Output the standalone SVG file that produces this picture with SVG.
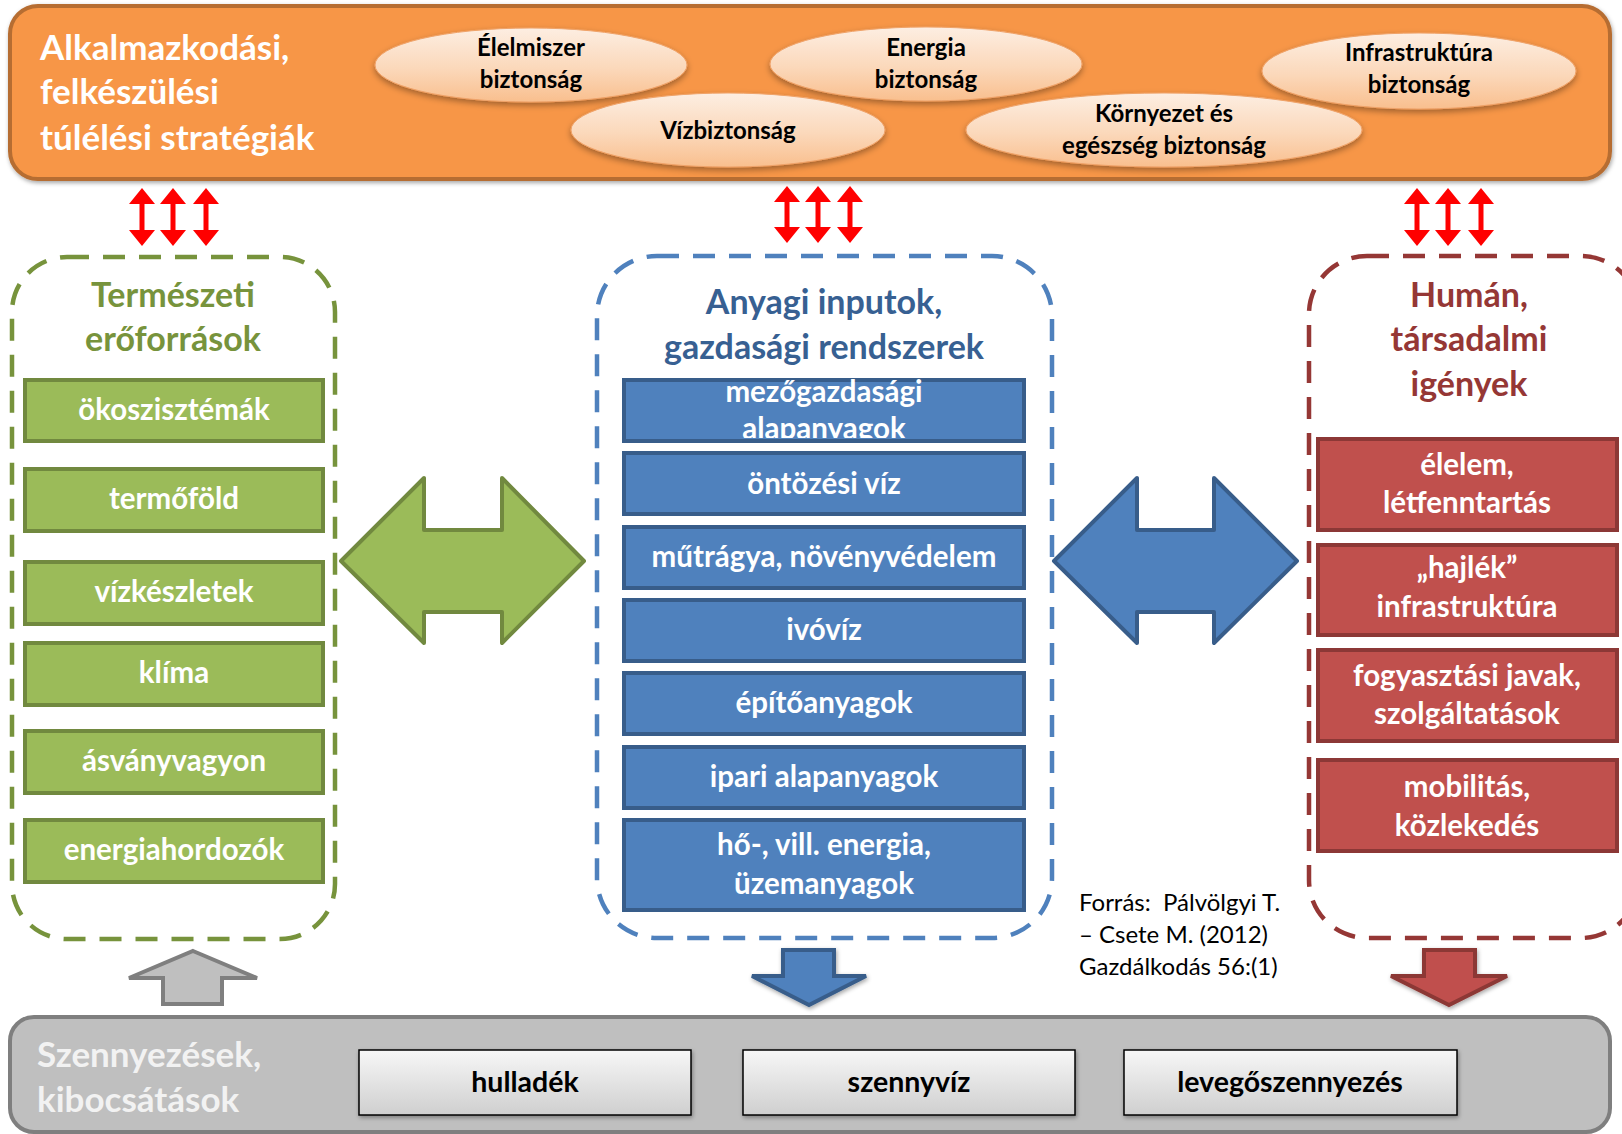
<svg xmlns="http://www.w3.org/2000/svg" width="1622" height="1134" viewBox="0 0 1622 1134">
<defs>
  <linearGradient id="gEll" x1="0" y1="0" x2="0" y2="1">
    <stop offset="0" stop-color="#FDEEE2"/>
    <stop offset="0.55" stop-color="#FBD8BA"/>
    <stop offset="1" stop-color="#F9BF8E"/>
  </linearGradient>
  <linearGradient id="gBox" x1="0" y1="0" x2="0" y2="1">
    <stop offset="0" stop-color="#F7F7F7"/>
    <stop offset="1" stop-color="#CFCFCF"/>
  </linearGradient>
  <filter id="shadow" x="-10%" y="-20%" width="120%" height="150%">
    <feDropShadow dx="0" dy="3" stdDeviation="3" flood-color="#000" flood-opacity="0.35"/>
  </filter>
  <filter id="shadowSm" x="-10%" y="-20%" width="120%" height="150%">
    <feDropShadow dx="1" dy="2" stdDeviation="2" flood-color="#000" flood-opacity="0.35"/>
  </filter>
  <clipPath id="clipMezo"><rect x="620" y="360" width="410" height="78"/></clipPath>
  <style>
    text { font-family: Lato, "Liberation Sans", sans-serif; font-weight: bold; text-anchor: middle; }
    .title { font-size: 35px; fill: #FFFFFF; text-anchor: start; }
    .ell { fill: url(#gEll); stroke: #EFA36A; stroke-width: 1; filter: url(#shadow); }
    .ellt { font-size: 24px; fill: #000; }
    .dashG { fill: none; stroke: #77933C; stroke-width: 4.5; stroke-dasharray: 22 14; }
    .dashB { fill: none; stroke: #4F81BD; stroke-width: 4.5; stroke-dasharray: 22 14; }
    .dashR { fill: none; stroke: #953735; stroke-width: 4.5; stroke-dasharray: 22 14; }
    .ctG { font-size: 34px; fill: #77933C; }
    .ctB { font-size: 34px; fill: #376092; }
    .ctR { font-size: 34px; fill: #953735; }
    .bxG { fill: #9BBB59; stroke: #71893F; stroke-width: 4; }
    .bxB { fill: #4F81BD; stroke: #385D8A; stroke-width: 4; }
    .bxR { fill: #C0504D; stroke: #8C3836; stroke-width: 4; }
    .bt { font-size: 29.5px; fill: #FFFFFF; }
    .gb { fill: url(#gBox); stroke: #000; stroke-width: 1.5; filter: url(#shadowSm); }
    .gbt { font-size: 28.5px; fill: #000; }
    .src { font-size: 24px; font-weight: normal; fill: #000; text-anchor: start; }
    .red { fill: #FF0000; }
  </style>
</defs>

<rect x="0" y="0" width="1622" height="1134" fill="#FFFFFF"/>

<!-- Top orange band -->
<g id="strategies">
  <rect x="10" y="6" width="1600" height="173" rx="28" fill="#F79646" stroke="#B66D31" stroke-width="4" filter="url(#shadowSm)"/>
  <text class="title" x="40" y="60">Alkalmazkodási,</text>
  <text class="title" x="40" y="104">felkészülési</text>
  <text class="title" x="40" y="150">túlélési stratégiák</text>
</g>
<g id="elelmiszer">
  <ellipse class="ell" cx="531" cy="65" rx="156" ry="37"/>
  <text class="ellt" x="531" y="56">Élelmiszer</text>
  <text class="ellt" x="531" y="88">biztonság</text>
</g>
<g id="energia">
  <ellipse class="ell" cx="926" cy="64" rx="156" ry="37"/>
  <text class="ellt" x="926" y="56">Energia</text>
  <text class="ellt" x="926" y="88">biztonság</text>
</g>
<g id="infrastruktura">
  <ellipse class="ell" cx="1419" cy="71" rx="157" ry="38"/>
  <text class="ellt" x="1419" y="61">Infrastruktúra</text>
  <text class="ellt" x="1419" y="93">biztonság</text>
</g>
<g id="vizbiztonsag">
  <ellipse class="ell" cx="728" cy="130" rx="157" ry="37"/>
  <text class="ellt" x="728" y="139">Vízbiztonság</text>
</g>
<g id="kornyezet">
  <ellipse class="ell" cx="1164" cy="130" rx="198" ry="37"/>
  <text class="ellt" x="1164" y="122">Környezet és</text>
  <text class="ellt" x="1164" y="154">egészség biztonság</text>
</g>

<!-- Left container: natural resources -->
<g id="termeszeti">
  <rect class="dashG" x="12" y="257" width="323" height="682" rx="55"/>
  <text class="ctG" x="173" y="307">Természeti</text>
  <text class="ctG" x="173" y="351">erőforrások</text>
</g>
<g id="okoszisztemak"><rect class="bxG" x="25" y="380" width="298" height="61"/><text class="bt" x="174" y="420">ökoszisztémák</text></g>
<g id="termofold"><rect class="bxG" x="25" y="469" width="298" height="62"/><text class="bt" x="174" y="509">termőföld</text></g>
<g id="vizkeszletek"><rect class="bxG" x="25" y="562" width="298" height="62"/><text class="bt" x="174" y="602">vízkészletek</text></g>
<g id="klima"><rect class="bxG" x="25" y="643" width="298" height="62"/><text class="bt" x="174" y="683">klíma</text></g>
<g id="asvanyvagyon"><rect class="bxG" x="25" y="731" width="298" height="62"/><text class="bt" x="174" y="771">ásványvagyon</text></g>
<g id="energiahordozok"><rect class="bxG" x="25" y="820" width="298" height="62"/><text class="bt" x="174" y="860">energiahordozók</text></g>

<!-- Middle container -->
<g id="anyagi">
  <rect class="dashB" x="597" y="256" width="455" height="682" rx="60"/>
  <text class="ctB" x="824" y="314">Anyagi inputok,</text>
  <text class="ctB" x="824" y="359">gazdasági rendszerek</text>
</g>
<g id="mezogazdasagi">
  <rect class="bxB" x="624" y="380" width="400" height="61"/>
  <g clip-path="url(#clipMezo)">
    <text class="bt" x="824" y="402">mezőgazdasági</text>
    <text class="bt" x="824" y="439">alapanyagok</text>
  </g>
</g>
<g id="ontozesi"><rect class="bxB" x="624" y="453" width="400" height="61"/><text class="bt" x="824" y="494">öntözési víz</text></g>
<g id="mutragya"><rect class="bxB" x="624" y="527" width="400" height="61"/><text class="bt" x="824" y="567">műtrágya, növényvédelem</text></g>
<g id="ivoviz"><rect class="bxB" x="624" y="600" width="400" height="61"/><text class="bt" x="824" y="640">ivóvíz</text></g>
<g id="epitoanyagok"><rect class="bxB" x="624" y="673" width="400" height="61"/><text class="bt" x="824" y="713">építőanyagok</text></g>
<g id="ipari"><rect class="bxB" x="624" y="747" width="400" height="61"/><text class="bt" x="824" y="787">ipari alapanyagok</text></g>
<g id="energia-uzem"><rect class="bxB" x="624" y="820" width="400" height="90"/><text class="bt" x="824" y="855">hő-, vill. energia,</text><text class="bt" x="824" y="894">üzemanyagok</text></g>

<!-- Right container -->
<g id="human">
  <rect class="dashR" x="1309" y="256" width="330" height="682" rx="58"/>
  <text class="ctR" x="1469" y="307">Humán,</text>
  <text class="ctR" x="1469" y="351">társadalmi</text>
  <text class="ctR" x="1469" y="396">igények</text>
</g>
<g id="elelem"><rect class="bxR" x="1318" y="439" width="299" height="91"/><text class="bt" x="1467" y="475">élelem,</text><text class="bt" x="1467" y="513">létfenntartás</text></g>
<g id="hajlek"><rect class="bxR" x="1318" y="545" width="299" height="90"/><text class="bt" x="1467" y="578">„hajlék”</text><text class="bt" x="1467" y="617">infrastruktúra</text></g>
<g id="fogyasztasi"><rect class="bxR" x="1318" y="650" width="299" height="91"/><text class="bt" x="1467" y="686">fogyasztási javak,</text><text class="bt" x="1467" y="724">szolgáltatások</text></g>
<g id="mobilitas"><rect class="bxR" x="1318" y="760" width="299" height="91"/><text class="bt" x="1467" y="797">mobilitás,</text><text class="bt" x="1467" y="836">közlekedés</text></g>

<!-- Source -->
<g id="forras">
  <text class="src" x="1079" y="911">Forrás:&#160; Pálvölgyi T.</text>
  <text class="src" x="1079" y="943">– Csete M. (2012)</text>
  <text class="src" x="1079" y="975">Gazdálkodás 56:(1)</text>
</g>

<!-- Bottom gray band -->
<g id="szennyezesek">
  <rect x="10" y="1017" width="1600" height="115" rx="24" fill="#BFBFBF" stroke="#7F7F7F" stroke-width="4"/>
  <text class="title" x="37" y="1067" style="fill:#F2F2F2">Szennyezések,</text>
  <text class="title" x="37" y="1112" style="fill:#F2F2F2">kibocsátások</text>
</g>
<g id="hulladek"><rect class="gb" x="359" y="1050" width="332" height="65"/><text class="gbt" x="525" y="1092">hulladék</text></g>
<g id="szennyviz"><rect class="gb" x="743" y="1050" width="332" height="65"/><text class="gbt" x="909" y="1092">szennyvíz</text></g>
<g id="levego"><rect class="gb" x="1124" y="1050" width="333" height="65"/><text class="gbt" x="1290" y="1092">levegőszennyezés</text></g>

<!-- Connectors -->
<g id="connectors">
  <!-- red double arrows: left -->
  <polygon class="red" points="142,188 155,204 144.5,204 144.5,230 155,230 142,246 129,230 139.5,230 139.5,204 129,204"/>
  <polygon class="red" points="173,188 186,204 175.5,204 175.5,230 186,230 173,246 160,230 170.5,230 170.5,204 160,204"/>
  <polygon class="red" points="206,188 219,204 208.5,204 208.5,230 219,230 206,246 193,230 203.5,230 203.5,204 193,204"/>
  <!-- middle -->
  <polygon class="red" points="787,186 800,202 789.5,202 789.5,227 800,227 787,243 774,227 784.5,227 784.5,202 774,202"/>
  <polygon class="red" points="818,186 831,202 820.5,202 820.5,227 831,227 818,243 805,227 815.5,227 815.5,202 805,202"/>
  <polygon class="red" points="850,186 863,202 852.5,202 852.5,227 863,227 850,243 837,227 847.5,227 847.5,202 837,202"/>
  <!-- right -->
  <polygon class="red" points="1417,188 1430,204 1419.5,204 1419.5,230 1430,230 1417,246 1404,230 1414.5,230 1414.5,204 1404,204"/>
  <polygon class="red" points="1448,188 1461,204 1450.5,204 1450.5,230 1461,230 1448,246 1435,230 1445.5,230 1445.5,204 1435,204"/>
  <polygon class="red" points="1481,188 1494,204 1483.5,204 1483.5,230 1494,230 1481,246 1468,230 1478.5,230 1478.5,204 1468,204"/>

  <!-- big green double arrow -->
  <polygon points="341,561 424,478 424,530 502,530 502,478 584,561 502,643 502,612 424,612 424,643" fill="#9BBB59" stroke="#71893F" stroke-width="4" stroke-linejoin="round"/>
  <!-- big blue double arrow -->
  <polygon points="1054,561 1137,478 1137,530 1214,530 1214,478 1297,561 1214,643 1214,612 1137,612 1137,643" fill="#4F81BD" stroke="#385D8A" stroke-width="4" stroke-linejoin="round"/>

  <!-- gray up arrow -->
  <polygon points="193,951 257,978 222,978 222,1004 163,1004 163,978 129,978" fill="#BFBFBF" stroke="#7F7F7F" stroke-width="4"/>
  <!-- blue down arrow -->
  <polygon points="783,950 834,950 834,976 866,976 809,1005 752,976 783,976" fill="#4F81BD" stroke="#385D8A" stroke-width="4" filter="url(#shadowSm)"/>
  <!-- red down arrow -->
  <polygon points="1424,950 1475,950 1475,976 1507,976 1449,1005 1391,976 1424,976" fill="#C0504D" stroke="#8C3836" stroke-width="4" filter="url(#shadowSm)"/>
</g>
</svg>
